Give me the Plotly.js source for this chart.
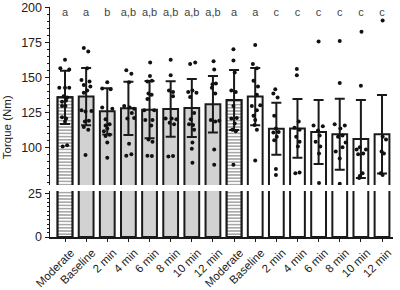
<!DOCTYPE html>
<html>
<head>
<meta charset="utf-8">
<script src="https://cdn.plot.ly/plotly-3.0.1.min.js"></script>
<style>html,body{margin:0;padding:0;background:#fff}#chart{width:400px;height:290px}</style>
</head>
<body>
<div id="chart"></div>
<script>
const categories = ["Moderate","Baseline","2 min","4 min","6 min","8 min","10 min","12 min",
                    "Moderate","Baseline","2 min","4 min","6 min","8 min","10 min","12 min"];
const barKind = ["hatch","gray","gray","gray","gray","gray","gray","gray",
                 "hatch","white","white","white","white","white","white","white"];
const means = [136.2,136.7,126.2,128.3,127.4,127.9,128.6,131.2,134.3,136.7,113.8,114.0,111.4,109.8,106.4,109.8];
const sds   = [19.0,20.5,16.5,19.0,20.5,19.8,20.7,20.2,21.4,20.4,18.6,21.0,22.9,25.3,27.8,28.0];
const letters = ["a","a","b","a,b","a,b","a,b","a,b","a,b","a","a","c","c","c","c","c","c"];

const dotValues = [
  [163,156,157,143,143,143,137,136,133,134,130,130,122,121,119,101,102],
  [171.5,169,157,148.5,147.5,145,144,141,139.5,127,126.5,126,119,119.5,115,113,95],
  [147,142.5,142,129,128,120.5,117,116,114,112,109.5,108.5,104,93],
  [155.5,153,147,130,129,128,125,121.5,121,103,94.5,95.5],
  [161,151.5,148,147.5,139,138,135,127,127,120,120,116,106,104.5,94.5,94.3],
  [163,152,141,140,137,121,121,120.5,118,117,94,94.3],
  [160,161,141,140,139.5,136.5,125,120.5,117,116.5,113,104,99.5,89.5],
  [162,156,146,145.5,143,139,120,119.5,119,99,88],
  [170.5,162.5,154,141,140,130,121.5,121,117.5,113,112,88],
  [173.5,160,157,148,144,138,130.5,130,127,123,120,116.5,113,91],
  [142,139,136,123,114,111,111.5,108,105.5,85,80.7],
  [156.5,152,119,114.5,113,108,104.5,101,82,82.5],
  [176,116,115.5,112.5,109,104.5,101,96,75],
  [176.5,146.5,117,116,114,109,108,104,100.5,97.5,92.5,74.5],
  [183,144.5,100.5,99,99,96,95.5,82,80,78.5],
  [191,108,106,97.5,96,82,80.7]
];
const dotJitter = [
  [0,0.2,-0.22,-0.27,0,0.2,-0.06,0.1,-0.14,0.05,-0.14,0.02,-0.14,0.05,0,-0.11,0.1],
  [-0.11,0.1,0.05,-0.22,0.16,-0.11,0.2,0.05,-0.11,-0.22,0.25,-0.03,-0.06,0.13,-0.11,0.1,-0.03],
  [0,-0.24,0.16,-0.24,0.24,-0.08,0.11,-0.08,0,-0.16,0.11,-0.08,0,0],
  [-0.1,0.14,0.03,-0.2,0.06,0.27,0.16,0.27,-0.05,0.03,-0.1,0.14],
  [0.03,0.02,0.11,-0.1,-0.05,0.1,-0.1,-0.25,0.22,-0.2,0.14,0.08,-0.05,0.14,-0.1,0.11],
  [0,0,-0.08,0.11,0.11,-0.24,0.05,0.27,-0.05,0.16,-0.11,0.11],
  [-0.08,0.16,0.03,-0.17,0.22,-0.08,0.11,-0.05,-0.13,0.06,0.11,0.03,0,0.03],
  [0.03,0.06,0.14,-0.02,-0.05,0.11,-0.1,0.3,0.11,0.06,0.06],
  [-0.03,-0.03,0.03,-0.13,0.08,-0.03,0.13,-0.13,0.03,-0.08,0.08,-0.03],
  [0,-0.11,0.08,-0.08,0.13,0.08,0.24,-0.16,0.08,-0.08,0,-0.03,0.08,0],
  [-0.05,-0.14,0.06,-0.1,-0.02,-0.14,0.11,0.02,-0.1,-0.02,-0.02],
  [-0.03,-0.03,0.06,-0.14,0.1,-0.06,0.1,0.02,-0.1,0.1],
  [0,-0.24,0.2,-0.03,0.05,-0.14,0.08,0.02,0.02],
  [0,0,-0.24,0.24,0.03,0.13,-0.08,0.28,0.13,-0.19,0,0],
  [0.03,0,-0.05,-0.2,0.24,0.11,-0.13,0.08,-0.05,-0.08],
  [0.03,0.03,0.19,-0.02,0.09,-0.06,0.03]
];

const idx = categories.map((_, i) => i);
const fillColors = barKind.map(k => k === "gray" ? "#d2d2d2" : "#ffffff");
const hatchIdx = idx.filter(i => barKind[i] === "hatch");

const solidStyle = {color: fillColors, line: {color: "#1a1a1a", width: 2}};
const hatchStyle = {
  color: "#ffffff",
  line: {color: "#1a1a1a", width: 2},
  pattern: {shape: "-", fgcolor: "#8c8c8c", bgcolor: "#ffffff", size: 3.2, solidity: 0.38, fillmode: "replace"}
};

const dx = [], dy = [];
dotValues.forEach((vals, i) => vals.forEach((v, j) => { dx.push(i + dotJitter[i][j]); dy.push(v); }));

const traces = [];
["y", "y2"].forEach(ax => {
  traces.push({type: "bar", x: idx, y: means, width: 0.7, marker: solidStyle, xaxis: "x", yaxis: ax,
    hoverinfo: "skip", showlegend: false});
  traces.push({type: "bar", x: hatchIdx, y: hatchIdx.map(i => means[i]), width: 0.7, marker: hatchStyle,
    xaxis: "x", yaxis: ax, hoverinfo: "skip", showlegend: false});
});
traces.push({type: "scatter", mode: "markers", x: idx, y: means, xaxis: "x", yaxis: "y2",
  marker: {size: 0.1, color: "rgba(0,0,0,0)"},
  error_y: {type: "data", array: sds, visible: true, color: "#1a1a1a", thickness: 2, width: 5},
  hoverinfo: "skip", showlegend: false});
traces.push({type: "scatter", mode: "markers", x: dx, y: dy, xaxis: "x", yaxis: "y2",
  marker: {color: "#111", size: 4}, showlegend: false, hoverinfo: "skip"});
traces.push({type: "scatter", mode: "text", x: idx, y: letters.map(() => 196.3), text: letters,
  textposition: "middle center", textfont: {family: "Liberation Sans, Arial", size: 11, color: "#444"},
  xaxis: "x", yaxis: "y2", showlegend: false, hoverinfo: "skip", cliponaxis: false});

const axFont = {family: "Liberation Sans, Arial", size: 12.5, color: "#222"};
const layout = {
  width: 400, height: 290,
  margin: {l: 50, r: 7, t: 7, b: 53},
  paper_bgcolor: "#fff", plot_bgcolor: "#fff",
  barmode: "overlay",
  showlegend: false,
  font: {family: "Liberation Sans, Arial", color: "#222"},
  xaxis: {
    range: [-0.71, 15.52], tickvals: idx, ticktext: categories, tickangle: -45,
    showline: true, linecolor: "#1a1a1a", linewidth: 1.5,
    ticks: "outside", ticklen: 3, tickcolor: "#1a1a1a", tickwidth: 1,
    ticklabelshift: 6, ticklabelstandoff: 0,
    showgrid: false, zeroline: false, tickfont: {family: "Liberation Sans, Arial", size: 11.5, color: "#222"},
    anchor: "y", fixedrange: true
  },
  yaxis: {
    domain: [0, 0.2], range: [0, 26.74], tickvals: [0, 25],
    showline: true, linecolor: "#1a1a1a", linewidth: 1.5,
    ticks: "outside", ticklen: 4, tickcolor: "#1a1a1a",
    minor: {ticks: "outside", ticklen: 2, dtick: 2.5, tickcolor: "#1a1a1a"},
    showgrid: false, zeroline: false, tickfont: axFont, anchor: "x", fixedrange: true
  },
  yaxis2: {
    domain: [0.2261, 1], range: [73.57, 200.7], tickvals: [100, 125, 150, 175, 200],
    showline: true, linecolor: "#1a1a1a", linewidth: 1.5,
    ticks: "outside", ticklen: 4, tickcolor: "#1a1a1a",
    minor: {ticks: "outside", ticklen: 2, dtick: 5, tickcolor: "#1a1a1a"},
    showgrid: false, zeroline: false, tickfont: axFont, anchor: "x", fixedrange: true
  },
  annotations: [{
    text: "Torque (Nm)", xref: "paper", yref: "paper", x: -0.125, y: 0.478,
    textangle: -90, showarrow: false, xanchor: "center", yanchor: "middle",
    font: {family: "Liberation Sans, Arial", size: 11.5, color: "#222"}
  }]
};

Plotly.newPlot("chart", traces, layout, {staticPlot: true, displayModeBar: false});
</script>
</body>
</html>
